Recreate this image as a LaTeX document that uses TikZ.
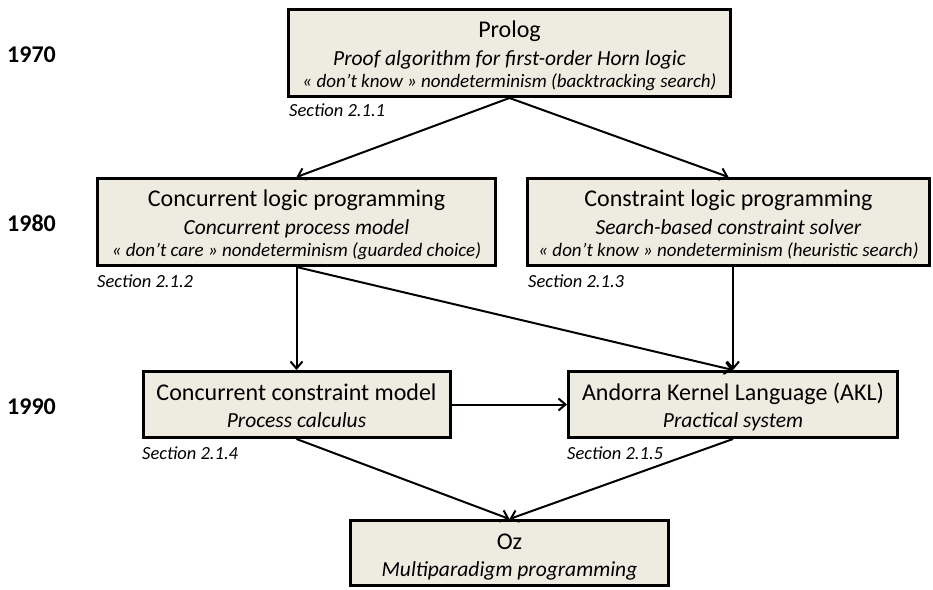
\documentclass[tikz,border=0pt]{standalone}
\usepackage{fontspec}
\setmainfont{Carlito}
\usetikzlibrary{arrows.meta}
\definecolor{boxfill}{HTML}{EEECE1}
\newcommand\myfs[1]{\fontsize{#1}{#1}\selectfont}
\begin{document}
\begin{tikzpicture}[x=1pt,y=-1pt,
  box/.style={draw=black, line width=3pt, fill=boxfill, inner sep=0pt},
  tl/.style={anchor=base, inner sep=0pt, font=\myfs{24}},
  sl/.style={anchor=base, inner sep=0pt, font=\myfs{21.5}\itshape},
  ll/.style={anchor=base, inner sep=0pt, font=\myfs{19}\itshape},
  sec/.style={anchor=base west, inner sep=0pt, font=\myfs{18.5}\itshape},
  yr/.style={anchor=base west, inner sep=0pt, font=\myfs{24}\bfseries},
  arr/.style={line width=2pt, -{Straight Barb[length=7pt,width=12pt,line width=2pt]}}]
\useasboundingbox (0,0) rectangle (933,589);
% boxes
\node[box, minimum width=442pt, minimum height=87pt] (prolog) at (509.5,53) {};
\node[box, minimum width=398pt, minimum height=87pt] (clpc) at (296.5,222) {};
\node[box, minimum width=402pt, minimum height=87pt] (clps) at (728.5,222) {};
\node[box, minimum width=307pt, minimum height=66pt] (ccm) at (296.5,404.5) {};
\node[box, minimum width=329pt, minimum height=66pt] (akl) at (733,404.5) {};
\node[box, minimum width=318pt, minimum height=65pt] (oz) at (509.5,553) {};
% texts
\node[tl] (p1) at (509.5,37) {Prolog};
\node[sl] (p2) at (509.5,65) {Proof algorithm for first-order Horn logic};
\node[ll] (p3) at (509.5,87.5) {« don’t know » nondeterminism (backtracking search)};
\node[tl] (c1) at (296.5,206.5) {Concurrent logic programming};
\node[sl] (c2) at (296.5,234) {Concurrent process model};
\node[ll] (c3) at (296.5,256.5) {« don’t care » nondeterminism (guarded choice)};
\node[tl] (s1) at (728.5,206.5) {Constraint logic programming};
\node[sl] (s2) at (728.5,234) {Search-based constraint solver};
\node[ll] (s3) at (728.5,256.5) {« don’t know » nondeterminism (heuristic search)};
\node[tl] (m1) at (296.5,400) {Concurrent constraint model};
\node[sl] (m2) at (296.5,427) {Process calculus};
\node[tl] (a1) at (733,400) {Andorra Kernel Language (AKL)};
\node[sl] (a2) at (733,427) {Practical system};
\node[tl] (o1) at (509.5,549) {Oz};
\node[sl] (o2) at (509.5,576) {Multiparadigm programming};
% section labels
\node[sec] (l1) at (289,116.5) {Section 2.1.1};
\node[sec] (l2) at (97,287) {Section 2.1.2};
\node[sec] (l3) at (528,287) {Section 2.1.3};
\node[sec] (l4) at (142,459) {Section 2.1.4};
\node[sec] (l5) at (567,459) {Section 2.1.5};
% years
\node[yr] (y1) at (7,62.5) {1970};
\node[yr] (y2) at (7,231.5) {1980};
\node[yr] (y3) at (7,414) {1990};
% connectors
\draw[arr] (prolog.south) -- (clpc.north);
\draw[arr] (prolog.south) -- (clps.north);
\draw[arr] (clpc.south) -- (ccm.north);
\draw[arr] (clpc.south) -- (akl.north);
\draw[arr] (akl.north |- clps.south) -- (akl.north);
\draw[arr] (ccm.east) -- (akl.west);
\draw[arr] (ccm.south) -- (oz.north);
\draw[arr] (akl.south) -- (oz.north);
\end{tikzpicture}
\end{document}
